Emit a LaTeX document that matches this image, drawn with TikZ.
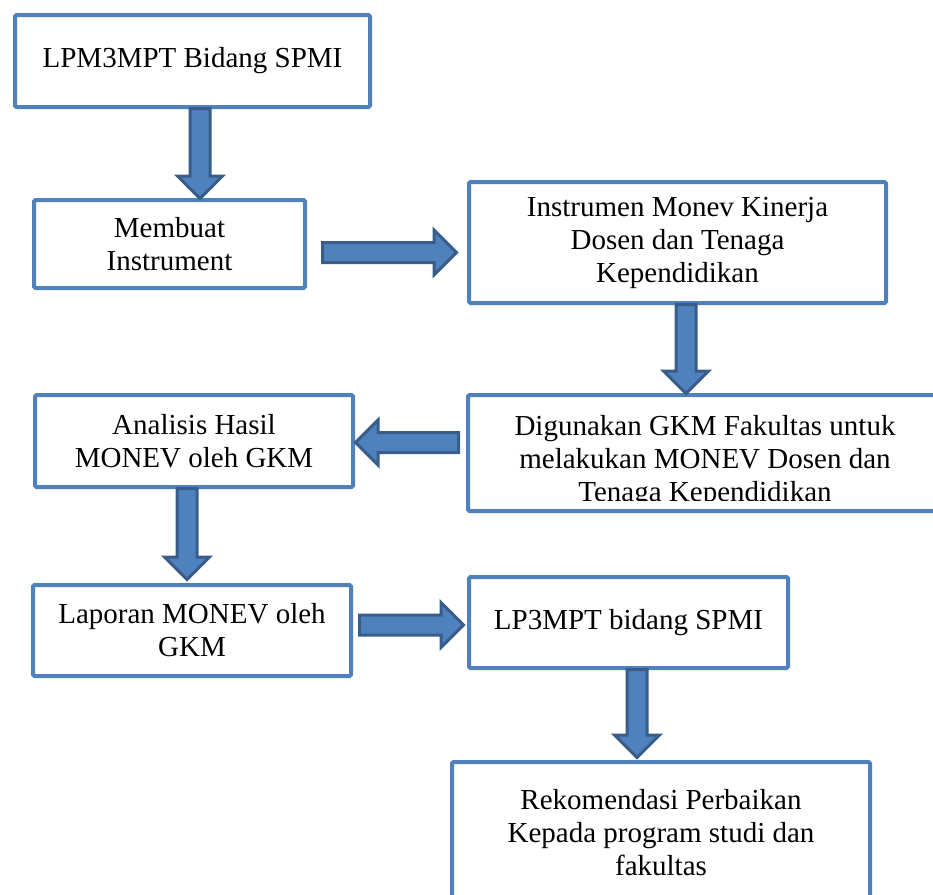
\documentclass[tikz,border=0pt]{standalone}
\usepackage{fontspec}
\setmainfont{Liberation Serif}
\usetikzlibrary{shapes.arrows,calc}
\definecolor{boxblue}{RGB}{79,129,189}
\definecolor{arrowedge}{RGB}{56,93,138}
\newcommand{\flowarrow}[3]{%
  \path let \p1=($(#2)-(#1)$), \n1={veclen(\x1,\y1)} in
    node[blockarrow, minimum height=\n1, rotate=#3, anchor=tail] at (#1) {};}
\begin{document}
\begin{tikzpicture}[x=1pt,y=-1pt,
    box/.style={draw=boxblue, line width=4pt, rounded corners=1.5pt, align=center,
      font=\fontsize{29}{33}\selectfont, inner sep=0pt},
    boxtext/.style={align=center, font=\fontsize{29}{33}\selectfont, inner sep=0pt},
    blockarrow/.style={single arrow, draw=arrowedge, fill=boxblue, line width=3pt,
      inner xsep=0pt, inner ysep=8.5pt, minimum width=0pt,
      single arrow head extend=12.5pt, single arrow tip angle=90}]
  \useasboundingbox (0,0) rectangle (933,894);
  \node[box, minimum width=355, minimum height=92] (lpm) at (192.5,61) {LPM3MPT Bidang SPMI};
  \node[box, minimum width=271, minimum height=88] (membuat) at (169.5,244) {Membuat\\Instrument};
  \node[box, minimum width=417, minimum height=121] (instrumen) at (677.5,242.5)
    {Instrumen Monev Kinerja\\Dosen dan Tenaga\\Kependidikan};
  \node[box, minimum width=474, minimum height=116] (digunakan) at (705,453) {};
  \begin{scope}
    \clip (468,395) rectangle (944,500);
    \node[boxtext] (digunakantext) at (705,462)
      {Digunakan GKM Fakultas untuk\\melakukan MONEV Dosen dan\\Tenaga Kependidikan};
  \end{scope}
  \node[box, minimum width=318, minimum height=92] (analisis) at (194,441) {Analisis Hasil\\MONEV oleh GKM};
  \node[box, minimum width=318, minimum height=91] (laporan) at (192,630.5) {Laporan MONEV oleh\\GKM};
  \node[box, minimum width=319, minimum height=91] (lpmpt) at (628.5,622.5) {LP3MPT bidang SPMI};
  \node[box, minimum width=418, minimum height=142] (rekomendasi) at (661,833)
    {Rekomendasi Perbaikan\\Kepada program studi dan\\fakultas};

  \coordinate (a1s) at ($(lpm.south)+(7.5,-2)$);
  \coordinate (a1e) at ($(a1s |- membuat.north)+(0,-1)$);
  \coordinate (a2s) at ($(membuat.east)+(14,8.5)$);
  \coordinate (a2e) at ($(a2s -| instrumen.west)+(-12,0)$);
  \coordinate (a3s) at ($(instrumen.south)+(8.5,-2)$);
  \coordinate (a3e) at ($(a3s |- digunakan.north)+(0,-1)$);
  \coordinate (a4s) at ($(digunakan.west)+(-6,-10.5)$);
  \coordinate (a4e) at ($(a4s -| analisis.east)+(2,0)$);
  \coordinate (a5s) at ($(analisis.south)+(-7,-2)$);
  \coordinate (a5e) at ($(a5s |- laporan.north)+(0,-5)$);
  \coordinate (a6s) at ($(laporan.east)+(5,-5.5)$);
  \coordinate (a6e) at ($(a6s -| lpmpt.west)+(-5,0)$);
  \coordinate (a7s) at ($(lpmpt.south)+(8.5,-2)$);
  \coordinate (a7e) at ($(a7s |- rekomendasi.north)+(0,-4)$);

  \flowarrow{a1s}{a1e}{-90}
  \flowarrow{a2s}{a2e}{0}
  \flowarrow{a3s}{a3e}{-90}
  \flowarrow{a4s}{a4e}{180}
  \flowarrow{a5s}{a5e}{-90}
  \flowarrow{a6s}{a6e}{0}
  \flowarrow{a7s}{a7e}{-90}
\end{tikzpicture}
\end{document}
